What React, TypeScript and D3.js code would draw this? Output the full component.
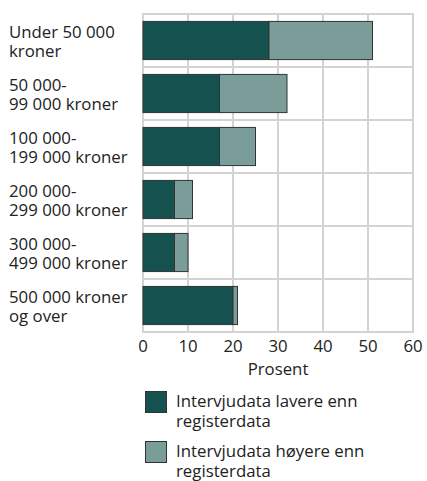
import React from "react";
import * as d3 from "d3";

const categories: string[][] = [
  ["Under 50 000", "kroner"],
  ["50 000-", "99 000 kroner"],
  ["100 000-", "199 000 kroner"],
  ["200 000-", "299 000 kroner"],
  ["300 000-", "499 000 kroner"],
  ["500 000 kroner", "og over"],
];
const lower: number[] = [28, 17, 17, 7, 7, 20];
const higher: number[] = [23, 15, 8, 4, 3, 1];
const ticks: number[] = [0, 10, 20, 30, 40, 50, 60];
const legendLabels: string[][] = [
  ["Intervjudata lavere enn", "registerdata"],
  ["Intervjudata høyere enn", "registerdata"],
];
const colors = ["#15514e", "#7a9d9a"];

const W = 427, H = 481;
const left = 143, right = 413, top = 14, bottom = 332;
const FONT = "'Open Sans', sans-serif";
const FS = 16.8;

export default function App() {
  const x = d3.scaleLinear().domain([0, 60]).range([left, right]);
  const y = d3.scaleBand<number>().domain(d3.range(categories.length)).range([top, bottom]).paddingInner(0.28).paddingOuter(0.14);
  const band = d3.scaleBand<number>().domain(d3.range(categories.length)).range([top, bottom]);
  const stack = categories.map((_, i) => [
    [0, lower[i]],
    [lower[i], lower[i] + higher[i]],
  ]);
  const grid = "#d3d3d3";
  return (
    <svg width={W} height={H} style={{ position: "absolute", left: 0, top: 0 }} fontFamily={FONT}>
      <rect x={0} y={0} width={W} height={H} fill="#fff" />
      {ticks.map((t) => (
        <line key={"v" + t} x1={x(t)} x2={x(t)} y1={top} y2={bottom + 1} stroke={grid} strokeWidth={2} />
      ))}
      {d3.range(categories.length + 1).map((i) => {
        const yy = i < categories.length ? band(i)! : bottom;
        return <line key={"h" + i} x1={left - 1} x2={right + 1} y1={yy} y2={yy} stroke={grid} strokeWidth={2} />;
      })}
      {stack.map((segs, i) =>
        segs.map(([a, b], k) => (
          <rect key={i + "-" + k} x={x(a)} y={y(i)!} width={x(b) - x(a)} height={y.bandwidth()} fill={colors[k]} stroke="#333" strokeWidth={1} />
        ))
      )}
      {categories.map((lines, i) => {
        const cy = band(i)! + band.bandwidth() / 2;
        return (
          <text key={"c" + i} x={9} fontSize={FS} fill="#222">
            {lines.map((l, j) => (
              <tspan key={j} x={9} y={cy - 3 + j * 19.6}>{l}</tspan>
            ))}
          </text>
        );
      })}
      {ticks.map((t) => (
        <text key={"t" + t} x={x(t)} y={352} textAnchor="middle" fontSize={FS} fill="#222">{t}</text>
      ))}
      <text x={(left + right) / 2} y={375} textAnchor="middle" fontSize={FS} fill="#222">Prosent</text>
      {legendLabels.map((lines, k) => (
        <g key={"l" + k} transform={`translate(145, ${391 + k * 50})`}>
          <rect x={0.5} y={0.5} width={21} height={21} fill={colors[k]} stroke="#333" strokeWidth={1} />
          <text fontSize={FS} fill="#222">
            {lines.map((l, j) => (
              <tspan key={j} x={31} y={16 + j * 20}>{l}</tspan>
            ))}
          </text>
        </g>
      ))}
    </svg>
  );
}
